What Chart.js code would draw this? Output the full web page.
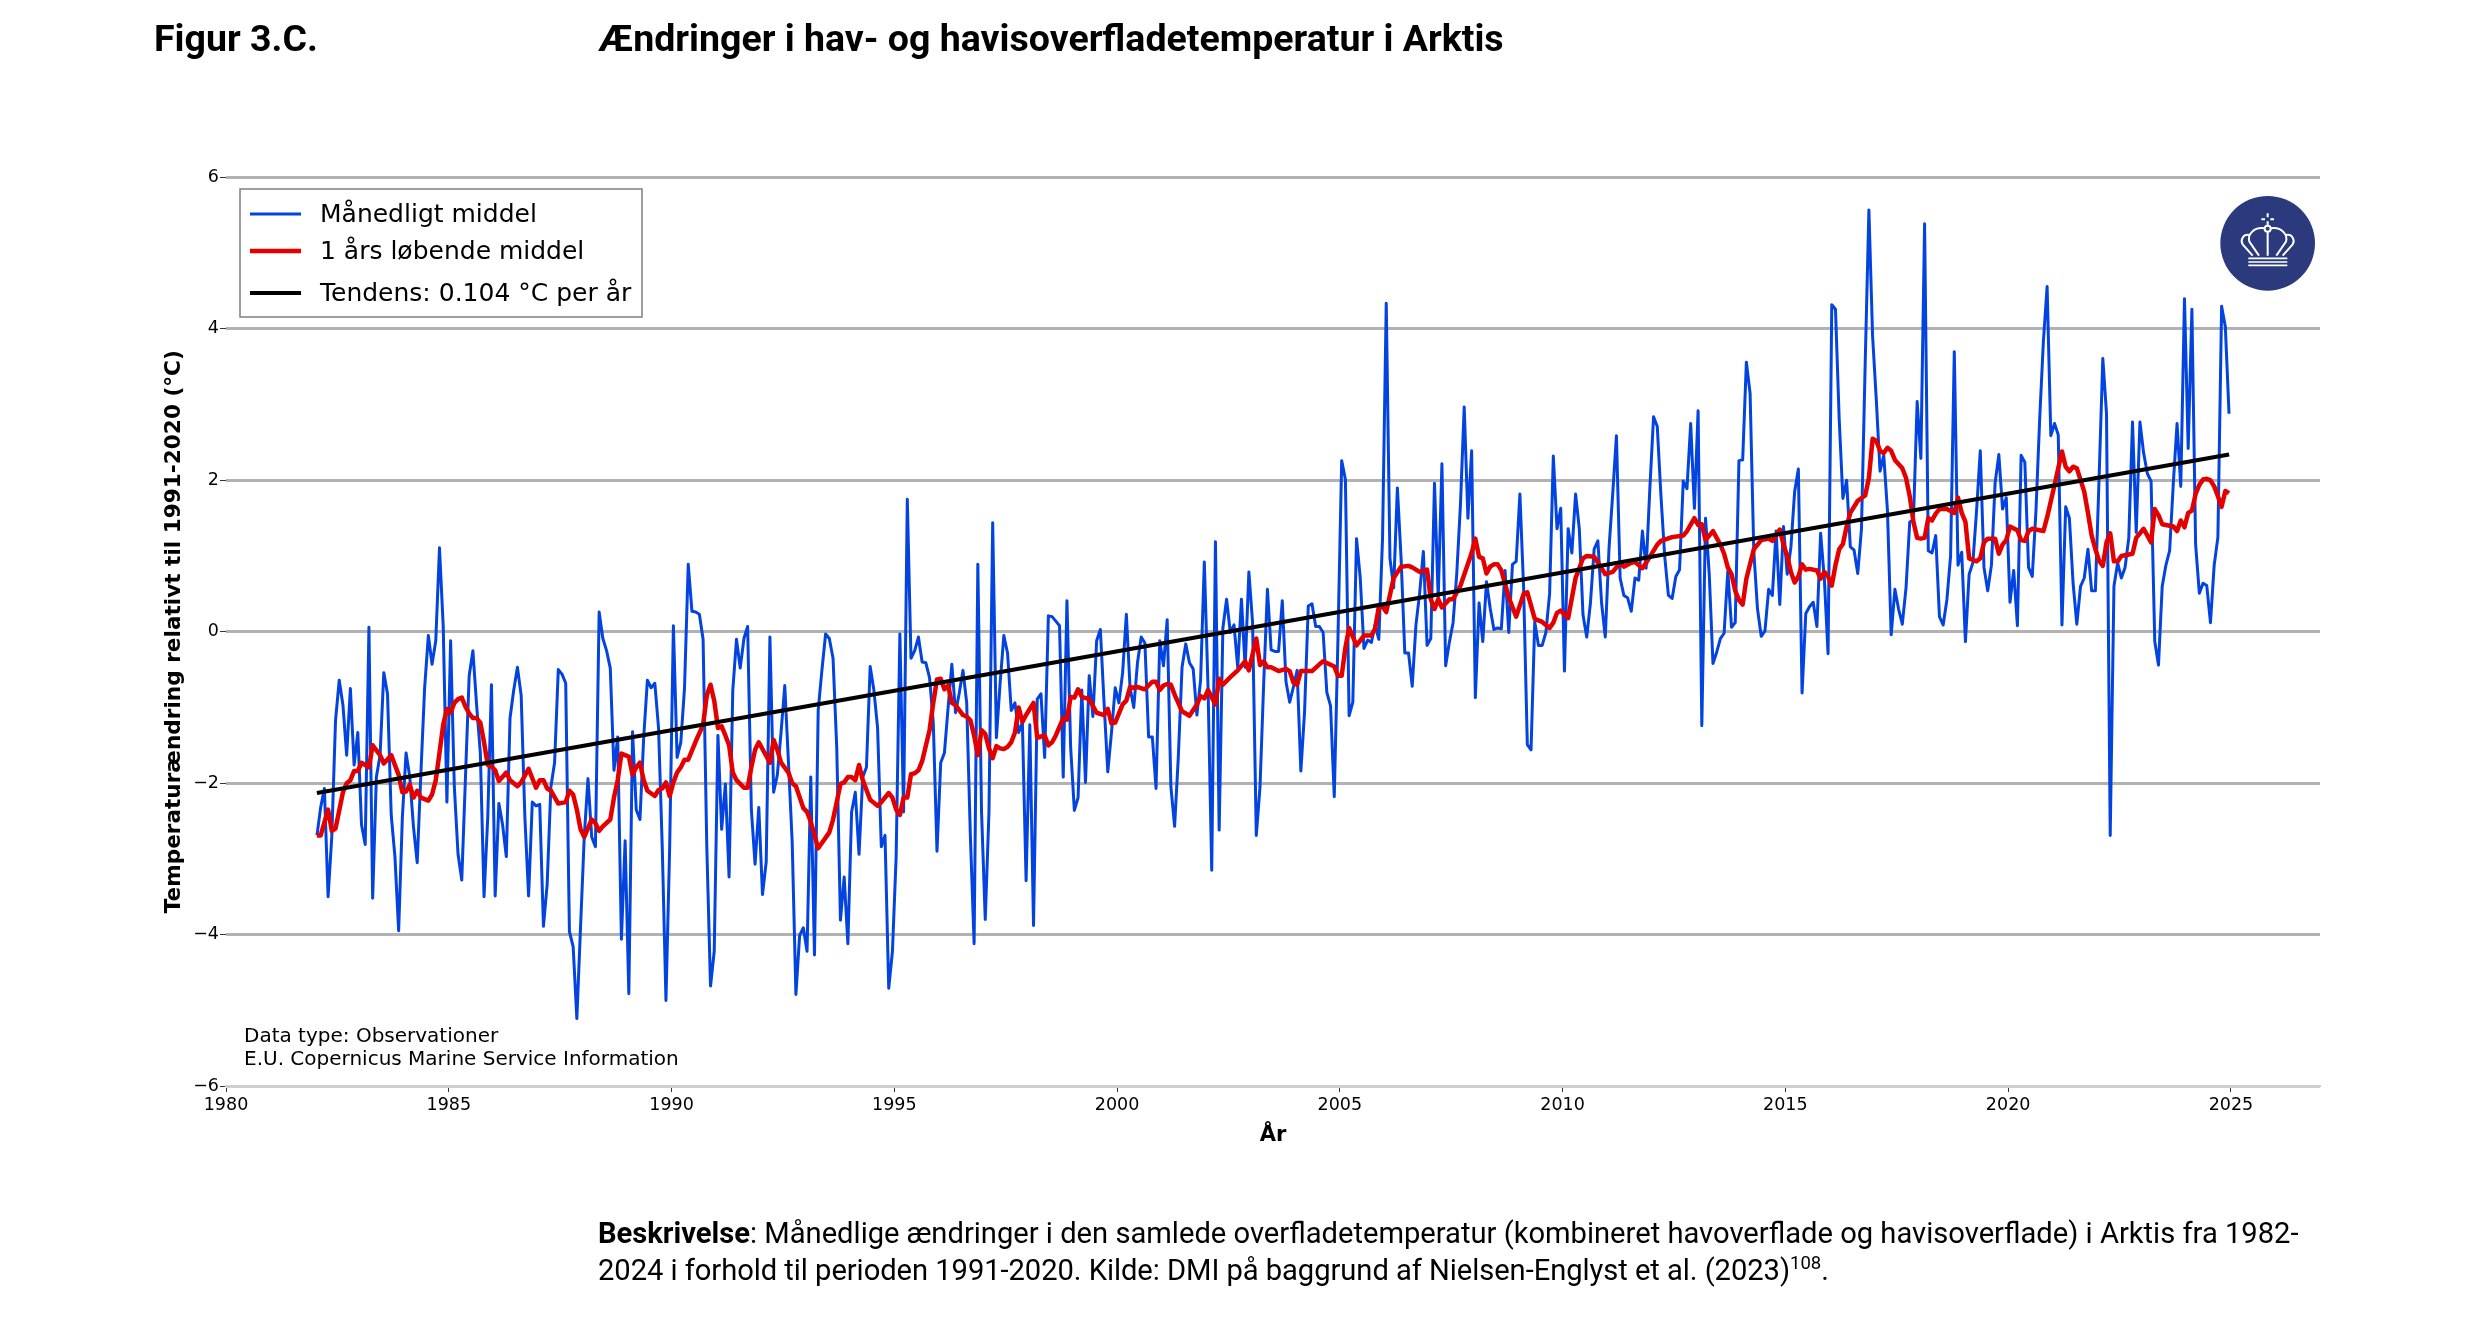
<!DOCTYPE html>
<html lang="da">
<head>
<meta charset="utf-8">
<title>Figur 3.C.</title>
<script src="https://cdn.jsdelivr.net/npm/chart.js@4"></script>
<style>
  html, body { margin: 0; padding: 0; background: #fff; }
  #page { position: relative; width: 2480px; height: 1323px; overflow: hidden; font-family: Roboto, sans-serif; color: #000; }
  #page canvas { position: absolute; left: 0; top: 0; }
  .head { position: absolute; top: 15px; font-size: 37.5px; line-height: 46px; font-weight: 700; white-space: nowrap; }
  #desc { position: absolute; left: 598px; top: 1215px; width: 1800px; font-size: 29.15px; line-height: 37px; white-space: nowrap; }
  #desc span { letter-spacing: -0.05px; }
  #desc sup { font-size: 18.5px; line-height: 0; }
  #logo { position: absolute; left: 2210px; top: 185px; width: 116px; height: 116px; }
</style>
</head>
<body>
<div id="page">
  <canvas id="chart" width="2480" height="1323"></canvas>
  <div class="head" style="left:154px">Figur 3.C.</div>
  <div class="head" style="left:598px">Ændringer i hav- og havisoverfladetemperatur i Arktis</div>
  <div id="desc"><b>Beskrivelse</b>: Månedlige ændringer i den samlede overfladetemperatur (kombineret havoverflade og havisoverflade) i Arktis fra 1982-<br><span>2024 i forhold til perioden 1991-2020. Kilde: DMI på baggrund af Nielsen-Englyst et al. (2023)</span><sup>108</sup>.</div>
  <svg id="logo" viewBox="0 0 348 348">
    <circle cx="173" cy="175" r="142" fill="#2a3a7c"/>
    <g fill="none" stroke="#fff" stroke-width="6">
      <path d="M173 85V97M173 109V120M154 103H165M181 103H192"/>
      <circle cx="173" cy="131" r="9"/>
      <path d="M173 141V212M164 130C130 125 112 150 118 170L147 212M182 130C216 125 234 150 228 170L199 212"/>
      <path d="M118 150C100 145 90 165 98 178L128 212M228 150C246 145 256 165 248 178L218 212"/>
      <path d="M115 220H232M115 231H232M115 241H232" stroke-width="5"/>
    </g>
  </svg>
</div>
<script>
const monthlyValues = [
  -2.69,-2.32,-2.07,-3.5,-2.7,-1.17,-.64,-.97,-1.63,-.75,-1.76,-1.33,
  -2.55,-2.81,.06,-3.52,-1.92,-1.63,-.54,-.82,-2.42,-2.97,-3.95,-2.45,
  -1.6,-1.92,-2.58,-3.05,-1.86,-.74,-.05,-.43,-.12,1.11,.08,-2.25,
  -.12,-2.05,-2.94,-3.28,-1.92,-.58,-.25,-.97,-1.6,-3.5,-2.45,-.7,
  -3.49,-2.27,-2.55,-2.97,-1.14,-.77,-.47,-.84,-2.45,-3.49,-2.25,-2.3,
  -2.28,-3.89,-3.34,-2.05,-1.73,-.5,-.56,-.68,-3.96,-4.16,-5.11,-3.89,
  -2.7,-1.94,-2.71,-2.84,.26,-.09,-.25,-.48,-1.83,-1.39,-4.06,-2.76,
  -4.78,-1.32,-2.35,-2.48,-1.4,-.64,-.74,-.68,-1.27,-2.84,-4.87,-2.84,
  .08,-1.66,-1.46,-.74,.89,.27,.26,.23,-.1,-2.84,-4.68,-4.22,
  -1.37,-2.61,-2.01,-3.24,-.77,-.1,-.48,-.09,.07,-2.35,-3.07,-2.32,
  -3.47,-3.04,-.07,-2.12,-1.89,-1.33,-.71,-1.73,-2.78,-4.79,-4.01,-3.91,
  -4.22,-1.92,-4.27,-1.04,-.51,-.03,-.09,-.35,-1.53,-3.81,-3.24,-4.12,
  -2.38,-2.12,-2.94,-1.92,-1.79,-.46,-.77,-1.27,-2.84,-2.69,-4.71,-4.22,
  -2.97,-.03,-2.38,1.75,-.35,-.25,-.07,-.4,-.41,-.61,-1.2,-2.9,
  -1.73,-1.6,-1.0,-.43,-1.07,-.81,-.51,-.94,-2.71,-4.12,.89,-2.38,
  -3.8,-2.38,1.44,-1.4,-.68,-.05,-.28,-1.04,-.94,-1.33,-1.2,-3.29,
  -1.23,-3.88,-.89,-.82,-1.66,.21,.2,.14,.08,-1.92,.41,-1.53,
  -2.36,-2.19,-.77,-1.99,-.58,-1.12,-.12,.03,-.94,-1.85,-1.33,-.74,
  -.94,-.54,.23,-.74,-1.0,-.41,-.07,-.15,-1.39,-1.39,-2.07,-.12,
  -.45,.16,-2.05,-2.57,-1.65,-.47,-.16,-.41,-.49,-1.1,-.64,.92,
  -.73,-3.15,1.19,-2.62,.05,.43,-.01,.09,-.47,.43,-.47,.79,
  .12,-2.69,-2.05,-.67,.56,-.24,-.26,-.26,.41,-.66,-.93,-.73,
  -.51,-1.84,-1.06,.34,.37,.07,.07,-.01,-.8,-.98,-2.18,-.08,
  2.26,2.01,-1.11,-.93,1.23,.71,-.22,-.11,-.14,.09,-.1,1.23,
  4.34,.97,.58,1.9,.97,-.28,-.28,-.72,.09,.51,1.06,-.18,
  -.09,1.96,.45,2.22,-.45,-.14,.12,.77,1.69,2.97,1.5,2.39,
  -.87,.38,-.13,.66,.31,.03,.05,.04,.81,-.01,.89,.93,
  1.82,.58,-1.49,-1.56,.13,-.18,-.18,-.01,.5,2.32,1.36,1.63,
  -.52,1.36,1.04,1.82,1.36,.22,-.07,.38,1.09,1.2,.38,-.07,
  1.1,1.82,2.59,.71,.48,.45,.27,.71,.68,1.33,.84,1.89,
  2.84,2.71,1.79,1.0,.48,.44,.73,.82,1.99,1.89,2.75,1.63,
  2.92,-1.24,1.5,.76,-.42,-.27,-.09,-.02,.8,.06,.12,2.26,
  2.27,3.56,3.15,1.06,.3,-.06,.01,.56,.48,1.33,.36,1.39,
  .76,1.12,1.85,2.15,-.81,.24,.33,.39,.07,1.3,.7,-.29,
  4.32,4.26,2.81,1.76,2.0,1.12,1.08,.77,1.36,3.54,5.57,3.9,
  3.06,2.12,2.33,1.6,-.04,.56,.3,.1,.58,1.45,1.48,3.04,
  2.29,5.39,1.07,1.04,1.27,.2,.09,.42,1.0,3.7,.88,1.05,
  -.13,.76,.91,1.6,2.39,.85,.54,.88,1.97,2.34,1.62,1.77,
  .39,.81,.08,2.33,2.24,.85,.73,1.6,2.81,3.84,4.56,2.59,
  2.75,2.6,.09,1.65,1.5,.64,.1,.6,.71,1.09,.54,.54,
  2.03,3.61,2.88,-2.69,.6,.91,.71,.85,1.24,2.77,1.31,2.77,
  2.36,2.09,1.99,-.13,-.44,.6,.88,1.07,1.97,2.75,1.92,4.4,
  2.42,4.26,1.15,.51,.64,.61,.12,.88,1.25,4.3,4.03,2.88
];

// months counted from jan 1982, read at the bends of the red line
const runningMonths = [
  0,1,3,4,5,7,8,9,10,11,12,14,15,17,18,20,22,23,24,25,26,27,28,30,31,32,33,34,35,36,37,38,39,40,41,42,43,44,45,46,47,48,49,51,52,54,55,57,59,60,61,62,63,65,67,68,69,70,71,72,74,75,76,77,79,80,81,82,83,84,85,86,87,88,89,91,92,93,94,95,96,97,98,99,100,102,104,105,106,107,108,109,110,111,112,113,115,116,117,118,119,122,123,124,125,127,128,129,131,132,133,135,138,139,140,141,142,143,144,145,146,147,149,151,152,154,155,156,157,158,159,160,161,162,163,165,166,167,168,169,170,171,172,174,175,176,177,178,179,180,181,182,183,184,185,186,187,188,189,190,191,193,194,196,197,198,199,201,202,203,204,205,206,208,210,212,213,214,215,217,218,219,220,221,223,225,226,227,228,
  229,230,231,233,235,237,238,239,240,242,243,244,246,248,250,251,253,254,255,256,257,259,261,262,263,264,265,268,270,271,274,275,276,277,278,280,282,284,285,286,287,288,290,292,294,295,297,299,300,301,302,303,305,306,308,311,312,313,314,315,316,317,318,319,321,323,325,326,328,330,332,333,334,335,337,339,341,342,344,346,347,349,351,352,354,355,357,358,
  361,362,365,368,369,371,372,373,374,376,378,379,380,381,382,383,384,385,387,389,391,392,394,395,396,397,398,399,400,401,402,404,405,406,407,408,409,410,411,412,413,415,417,418,419,420,421,422,423,424,425,427,428,429,430,431,432,433,434,435,436,437,439,441,442,443,444,445,446,447,448,449,450,452,453,454,455,456,458,459,460,461,462,465,466,468,470,471,472,473,474,476,477,478,479,480,481,482,483,484,485,486,488,489,490,492,494,495,496,497,500,501,502,503,504,505,506,507,508,509,510,511,512,513,514,515
];
const runningValues = [
  -2.69,-2.69,-2.35,-2.63,-2.6,-2.12,-2.0,-1.96,-1.84,-1.84,-1.73,-1.79,-1.5,-1.63,-1.74,-1.63,-1.89,-2.12,-2.11,-2.02,-2.19,-2.1,-2.19,-2.23,-2.15,-1.96,-1.6,-1.23,-1.02,-1.07,-.94,-.89,-.87,-.99,-1.08,-1.14,-1.14,-1.2,-1.46,-1.76,-1.78,-1.83,-1.97,-1.86,-1.96,-2.04,-1.99,-1.81,-2.06,-1.96,-1.96,-2.07,-2.1,-2.27,-2.25,-2.1,-2.15,-2.35,-2.61,-2.71,-2.48,-2.53,-2.63,-2.57,-2.48,-2.19,-1.96,-1.61,-1.63,-1.65,-1.89,-1.79,-1.73,-1.96,-2.1,-2.17,-2.09,-2.07,-1.99,-2.17,-1.99,-1.86,-1.79,-1.69,-1.69,-1.45,-1.23,-.84,-.7,-.91,-1.27,-1.25,-1.37,-1.5,-1.86,-1.96,-2.06,-2.06,-1.79,-1.56,-1.46,-1.73,-1.43,-1.56,-1.73,-1.86,-2.0,-2.04,-2.33,-2.38,-2.51,-2.86,-2.65,-2.48,-2.25,-2.01,-1.99,-1.92,-1.92,-1.96,-1.76,-1.96,-2.22,-2.3,-2.25,-2.13,-2.19,-2.35,-2.42,-2.19,-2.19,-1.88,-1.87,-1.83,-1.71,-1.3,-.94,-.63,-.62,-.76,-.71,-.94,-.97,-1.1,-1.12,-1.17,-1.37,-1.63,-1.3,-1.35,-1.54,-1.67,-1.51,-1.54,-1.55,-1.52,-1.46,-1.33,-1.0,-1.19,-1.1,-.94,-1.4,-1.37,-1.5,-1.46,-1.37,-1.14,-1.16,-.86,-.87,-.76,-.86,-.89,-1.07,-1.1,-1.02,-1.21,-1.2,-.96,-.91,-.73,-.74,-.73,-.76,-.66,-.66,-.77,-.71,
  -.69,-.7,-.83,-1.05,-1.11,-.96,-.85,-.88,-.77,-.96,-.62,-.7,-.6,-.51,-.39,-.51,-.09,-.44,-.39,-.47,-.47,-.52,-.49,-.52,-.67,-.7,-.52,-.52,-.43,-.39,-.46,-.58,-.58,-.21,.05,-.18,-.05,-.05,.04,.33,.33,.26,.71,.86,.87,.85,.79,.82,.43,.3,.43,.32,.43,.43,.61,1.04,1.23,.99,.97,.77,.86,.89,.89,.81,.45,.2,.5,.52,.17,.13,.05,.12,.25,.28,.18,.71,.97,1.0,.99,.84,.76,.79,.91,.86,.91,.92,.84,.91,
  1.15,1.2,1.25,1.27,1.33,1.5,1.41,1.42,1.21,1.33,1.15,1.03,.85,.76,.54,.42,.36,.7,1.09,1.21,1.23,1.2,1.35,1.15,1.0,.79,.65,.73,.89,.82,.83,.81,.7,.79,.73,.61,.88,1.09,1.16,1.39,1.57,1.73,1.8,2.03,2.55,2.52,2.39,2.36,2.43,2.39,2.27,2.16,2.03,1.79,1.45,1.24,1.23,1.24,1.5,1.47,1.56,1.62,1.62,1.57,1.77,1.57,1.45,.97,.95,.93,.97,1.18,1.23,1.23,1.03,1.15,1.21,1.39,1.34,1.21,1.2,1.33,1.36,1.33,1.51,1.94,2.38,2.18,2.12,2.18,2.16,1.85,1.57,1.27,1.09,.94,.87,1.18,1.3,.93,.93,1.0,1.02,1.03,1.24,1.36,1.18,1.62,1.54,1.42,1.39,1.33,1.47,1.38,1.57,1.6,1.82,1.94,2.01,2.02,2.0,1.92,1.79,1.65,1.86,1.83
];

const trendYears = [1982.04, 2024.96];
const trendValues = [-2.13, 2.34];

const xTicks = [1980, 1985, 1990, 1995, 2000, 2005, 2010, 2015, 2020, 2025];
const yTicks = [-6, -4, -2, 0, 2, 4, 6];
const noteLines = ['Data type: Observationer', 'E.U. Copernicus Marine Service Information'];

const startYear = 1982;
const axisFont = 'DejaVu Sans';

// mid-month position on the year axis
const monthToYear = m => startYear + (m + 0.5) / 12;

// legend box and the small source text, drawn on the canvas
const boxPlugin = {
  id: 'boxPlugin',
  afterDraw(chart) {
    const c = chart.ctx;
    c.save();
    c.fillStyle = '#fff';
    c.strokeStyle = '#7f7f7f';
    c.lineWidth = 1.5;
    c.fillRect(240, 189, 402, 128);
    c.strokeRect(240, 189, 402, 128);
    const rows = [214, 251, 293];
    c.font = '25px "' + axisFont + '"';
    c.textBaseline = 'middle';
    chart.data.datasets.forEach((ds, i) => {
      c.strokeStyle = ds.borderColor;
      c.lineWidth = ds.borderWidth;
      c.beginPath();
      c.moveTo(250, rows[i]);
      c.lineTo(301, rows[i]);
      c.stroke();
      c.fillStyle = '#000';
      c.fillText(ds.label, 320, rows[i] + 1.5);
    });
    c.font = '20px "' + axisFont + '"';
    c.fillText(noteLines[0], 244, 1037);
    c.fillText(noteLines[1], 244, 1060);
    c.restore();
  }
};

new Chart(document.getElementById('chart'), {
  type: 'line',
  plugins: [boxPlugin],
  data: {
    datasets: [
      {
        label: 'Månedligt middel',
        data: monthlyValues.map((v, i) => ({ x: monthToYear(i), y: v })),
        borderColor: '#0343df',
        borderWidth: 3,
        order: 3
      },
      {
        label: '1 års løbende middel',
        data: runningValues.map((v, i) => ({ x: monthToYear(runningMonths[i]), y: v })),
        borderColor: '#e50000',
        borderWidth: 4.5,
        order: 2
      },
      {
        label: 'Tendens: 0.104 °C per år',
        data: trendValues.map((v, i) => ({ x: trendYears[i], y: v })),
        borderColor: '#000',
        borderWidth: 4,
        order: 1
      }
    ]
  },
  options: {
    responsive: false,
    devicePixelRatio: 1,
    animation: false,
    layout: { padding: { top: 177.5, right: 160, left: 0, bottom: 0 } },
    elements: { point: { radius: 0 }, line: { tension: 0, borderJoinStyle: 'round' } },
    plugins: { legend: { display: false }, tooltip: { enabled: false } },
    scales: {
      x: {
        type: 'linear',
        min: 1980,
        max: 2027,
        afterFit: s => { s.height = 237; },
        afterBuildTicks: s => { s.ticks = xTicks.map(v => ({ value: v })); },
        border: { color: '#cfcfcf', width: 2 },
        grid: { drawOnChartArea: false, tickColor: '#333', tickWidth: 1, tickLength: 6 },
        ticks: { color: '#000', font: { family: axisFont, size: 17.5 }, padding: 3, maxRotation: 0, autoSkip: false, callback: v => String(v) },
        title: { display: true, text: 'År', color: '#000', font: { family: axisFont, size: 21, weight: 'bold' }, padding: { top: 0, bottom: 175 } }
      },
      y: {
        min: -6,
        max: 6,
        afterFit: s => { s.width = 226; },
        afterBuildTicks: s => { s.ticks = yTicks.map(v => ({ value: v })); },
        border: { display: false },
        grid: {
          color: c => c.tick.value === -6 ? '#cfcfcf' : '#b2b2b2',
          lineWidth: 3,
          tickColor: '#333',
          tickWidth: 1,
          tickLength: 6
        },
        ticks: { color: '#000', font: { family: axisFont, size: 17.5 }, padding: 1, autoSkip: false, callback: v => String(v).replace('-', '\u2212') },
        title: { display: true, text: 'Temperaturændring relativt til 1991-2020 (°C)', color: '#000', font: { family: axisFont, size: 21.6, weight: 'bold' }, padding: { top: 161, bottom: 0 } }
      }
    }
  }
});
</script>
</body>
</html>
